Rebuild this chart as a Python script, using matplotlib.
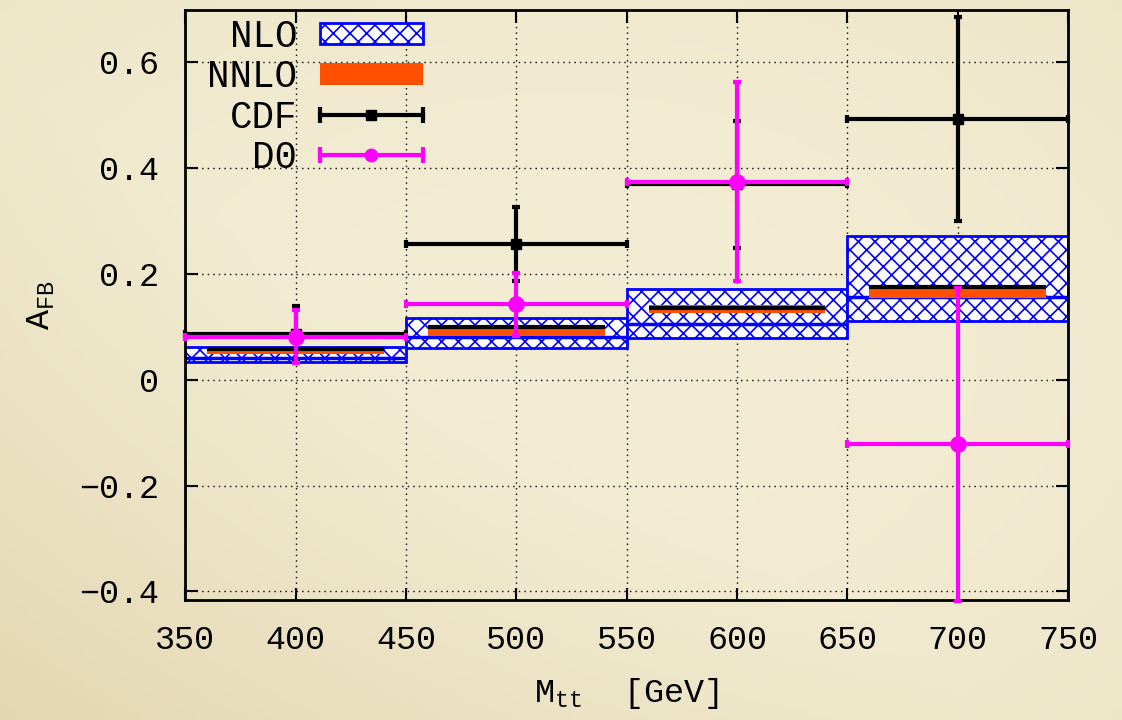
import numpy as np
import matplotlib
matplotlib.use("Agg")
import matplotlib.pyplot as plt
from matplotlib.patches import Rectangle
from matplotlib.lines import Line2D
from matplotlib.legend_handler import HandlerBase

plt.rcParams['font.family'] = ['Liberation Mono', 'DejaVu Sans']
plt.rcParams['mathtext.fontset'] = 'custom'
plt.rcParams['mathtext.rm'] = 'Liberation Mono'
plt.rcParams['hatch.linewidth'] = 1.2

# bins in M_tt [GeV]
bin_lo = [350, 450, 550, 650]
bin_hi = [450, 550, 650, 750]
bin_mid = [400, 500, 600, 700]

# NLO band (low, high) and central value
nlo_lo = [0.033, 0.060, 0.079, 0.111]
nlo_hi = [0.062, 0.117, 0.172, 0.272]
nlo_c = [0.041, 0.081, 0.106, 0.157]

# NNLO band and central value
nnlo_lo = [0.049, 0.083, 0.126, 0.155]
nnlo_hi = [0.062, 0.104, 0.141, 0.179]
nnlo_c = [0.057, 0.099, 0.136, 0.175]

# CDF measurement
cdf_y = [0.086, 0.257, 0.369, 0.492]
cdf_err = [0.053, 0.070, 0.120, 0.192]

# D0 measurement
d0_y = [0.081, 0.142, 0.374, -0.122]
d0_err = [0.050, 0.060, 0.188, 0.296]

BLUE = '#0000ff'
ORANGE = '#ff5000'
MAGENTA = '#ff00ff'


class HandlerCapLine(HandlerBase):
    def __init__(self, color, marker, ms):
        super().__init__()
        self.color = color
        self.marker = marker
        self.ms = ms

    def create_artists(self, legend, orig_handle, xdescent, ydescent,
                       width, height, fontsize, trans):
        y = height / 2 - ydescent
        x0, x1 = -xdescent, width - xdescent
        line = Line2D([x0, x1], [y, y], color=self.color, lw=3, transform=trans)
        caps = Line2D([x0, x1], [y, y], ls='none', marker='|', ms=11, mew=3,
                      color=self.color, transform=trans)
        mid = Line2D([(x0 + x1) / 2], [y], ls='none', marker=self.marker,
                     ms=self.ms, color=self.color, transform=trans)
        return [line, caps, mid]


fig = plt.figure(figsize=(11.22, 7.2), dpi=100)

# parchment background, darker towards the lower left
bg = fig.add_axes([0, 0, 1, 1], zorder=-10)
gx, gy = np.meshgrid(np.linspace(-1, 1, 200), np.linspace(-1, 1, 130))
shade = np.clip(0.55 * np.clip((gy - gx) / 2 - 0.1, 0, None)
                + 0.12 * (gx ** 2 + gy ** 2), 0, 1)
c_in = np.array([243, 237, 212]) / 255
c_out = np.array([222, 207, 165]) / 255
img = c_in[None, None, :] * (1 - shade[..., None]) + c_out[None, None, :] * shade[..., None]
bg.imshow(img, aspect='auto', extent=[0, 1, 0, 1], origin='upper')
bg.axis('off')

ax = fig.add_axes([0.165, 0.166, 0.787, 0.820])
ax.set_facecolor('none')

widths = np.array(bin_hi) - np.array(bin_lo)

# NLO hatched band
ax.bar(bin_mid, np.array(nlo_hi) - np.array(nlo_lo), bottom=nlo_lo, width=widths,
       facecolor='white', edgecolor=BLUE, hatch='xx', lw=2, zorder=2)
ax.hlines(nlo_c, bin_lo, bin_hi, color=BLUE, lw=2.5, zorder=2.1)

# NNLO band
ax.bar(bin_mid, np.array(nnlo_hi) - np.array(nnlo_lo), bottom=nnlo_lo, width=widths * 0.8,
       facecolor=ORANGE, edgecolor='none', zorder=3)
ax.hlines(nnlo_c, np.array(bin_mid) - widths * 0.4, np.array(bin_mid) + widths * 0.4,
          color='black', lw=3, zorder=3.1)

# data
ax.errorbar(bin_mid, cdf_y, yerr=cdf_err, xerr=widths / 2, fmt='s', color='black',
            ms=7, lw=3, capsize=3, capthick=3, zorder=4, clip_on=False)
ax.errorbar(bin_mid, d0_y, yerr=d0_err, xerr=widths / 2, fmt='o', color=MAGENTA,
            ms=11, lw=3, capsize=3, capthick=3, zorder=5, clip_on=False)

ax.set_xlim(350, 750)
ax.set_ylim(-0.417, 0.698)
ax.set_xticks(np.arange(350, 751, 50))
ax.set_yticks([-0.4, -0.2, 0, 0.2, 0.4, 0.6])
ax.set_yticklabels(['\u22120.4', '\u22120.2', '0', '0.2', '0.4', '0.6'])
ax.tick_params(direction='in', length=9, width=1.5, top=True, right=True,
               labelsize=24)
ax.tick_params(axis='y', pad=19)
ax.tick_params(axis='x', pad=18)
ax.grid(True, ls=(0, (1, 3)), color='black', lw=1)
for s in ax.spines.values():
    s.set_linewidth(2)

ax.set_xlabel(r'M$_{\mathrm{tt}}$  [GeV]', fontsize=24, labelpad=14)
ax.set_ylabel(r'A$_{\mathrm{FB}}$', fontsize=24, labelpad=16)

h_nlo = Rectangle((0, 0), 1, 1, facecolor='white', edgecolor=BLUE, hatch='xx', lw=2)
h_nnlo = Rectangle((0, 0), 1, 1, facecolor=ORANGE, edgecolor='none')
h_cdf = Line2D([], [])
h_d0 = Line2D([], [])
ax.legend([h_nlo, h_nnlo, h_cdf, h_d0], ['NLO', 'NNLO', 'CDF', 'D0'],
          handler_map={h_cdf: HandlerCapLine('black', 's', 7),
                       h_d0: HandlerCapLine(MAGENTA, 'o', 9)},
          loc='upper left', bbox_to_anchor=(0.025, 0.985), frameon=False,
          borderpad=0, borderaxespad=0,
          markerfirst=False, fontsize=27, handlelength=2.75, handleheight=0.5,
          handletextpad=0.6, labelspacing=0.12)

fig.savefig('out.png', dpi=100)
